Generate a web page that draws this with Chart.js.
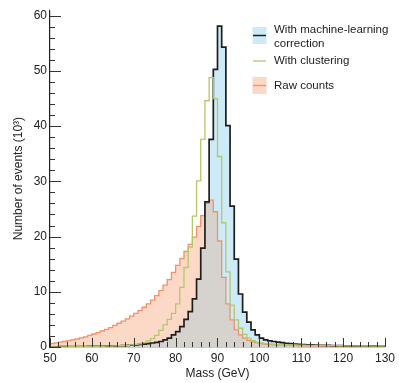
<!DOCTYPE html>
<html>
<head>
<meta charset="utf-8">
<script src="https://cdn.jsdelivr.net/npm/chart.js@4"></script>
<style>
html,body{margin:0;padding:0;background:#fff}
</style>
</head>
<body>
<canvas id="chart" width="399" height="383"></canvas>
<script>
// 1 GeV bins, left edges start at 50 GeV
binStart = 50
binWidth = 1

// events per bin (10^3), bins 50-51 ... 129-130
mlCorrected = [
  0.04, 0.04, 0.05, 0.05, 0.06, 0.06, 0.07, 0.08, 0.09, 0.10,
  0.11, 0.12, 0.14, 0.16, 0.18, 0.20, 0.23, 0.26, 0.30, 0.35,
  0.40, 0.46, 0.53, 0.62, 0.72, 0.85, 1.0, 1.3, 1.6, 2.2,
  2.8, 3.7, 5.0, 6.4, 8.7, 12.3, 17.9, 26.3, 37.6, 50.3,
  58.1, 54.3, 40.1, 25.5, 15.9, 9.6, 6.3, 4.5, 3.1, 2.2,
  1.6, 1.3, 1.1, 1.0, 0.9, 0.78, 0.68, 0.60, 0.54, 0.48,
  0.44, 0.40, 0.37, 0.34, 0.32, 0.30, 0.28, 0.26, 0.25, 0.24,
  0.22, 0.21, 0.20, 0.19, 0.18, 0.17, 0.16, 0.15, 0.14, 0.13
]
clustering = [
  0.03, 0.03, 0.04, 0.04, 0.05, 0.05, 0.06, 0.07, 0.08, 0.09,
  0.10, 0.11, 0.13, 0.15, 0.17, 0.20, 0.23, 0.27, 0.32, 0.38,
  0.46, 0.58, 0.8, 1.1, 1.5, 2.1, 3.0, 4.0, 5.0, 6.1,
  7.8, 10.8, 14.4, 18.1, 23.7, 30.1, 37.6, 44.6, 48.8, 45.0,
  34.5, 22.5, 13.6, 7.6, 4.9, 3.4, 2.3, 1.6, 1.15, 0.88,
  0.72, 0.62, 0.55, 0.50, 0.46, 0.43, 0.40, 0.38, 0.36, 0.34,
  0.32, 0.31, 0.30, 0.29, 0.28, 0.27, 0.26, 0.25, 0.24, 0.23,
  0.22, 0.21, 0.20, 0.19, 0.18, 0.18, 0.17, 0.16, 0.16, 0.15
]
rawCounts = [
  0.6, 0.75, 0.9, 1.0, 1.15, 1.3, 1.45, 1.65, 1.85, 2.1,
  2.35, 2.6, 2.9, 3.2, 3.5, 3.9, 4.3, 4.7, 5.1, 5.6,
  6.1, 6.6, 7.2, 7.8, 8.5, 9.3, 10.2, 11.2, 12.2, 13.5,
  14.8, 16.0, 17.3, 18.6, 19.9, 21.8, 23.8, 26.0, 26.6, 24.5,
  19.2, 12.6, 7.8, 4.9, 3.1, 2.2, 1.6, 1.2, 0.95, 0.75,
  0.6, 0.5, 0.44, 0.40, 0.36, 0.33, 0.30, 0.28, 0.26, 0.24,
  0.22, 0.21, 0.20, 0.19, 0.18, 0.17, 0.16, 0.15, 0.14, 0.14,
  0.13, 0.13, 0.12, 0.12, 0.11, 0.11, 0.10, 0.10, 0.10, 0.09
]

xMin = 50
xMax = 130
yMax = 61

FONT = '"Liberation Sans", Arial, Helvetica, sans-serif'
BLUE_FILL = '#cdeaf6'
ORANGE_FILL = '#fcd8c6'
GRAY_FILL = '#d6d3ce'
BLACK = '#1e1e1e'
GREEN = '#b3c76b'
ORANGE = '#f39068'

// step points: left edge of each bin, plus closing edge
function toPoints(vals){
  pts = vals.map(function(v, i){ return {x: binStart + i*binWidth, y: v} })
  pts.push({x: binStart + vals.length*binWidth, y: vals[vals.length-1]})
  return pts
}
// where the ML and raw fills overlap
overlap = mlCorrected.map(function(v, i){ return Math.min(v, rawCounts[i]) })

tickMarks = {
  id: 'tickMarks',
  afterDraw(chart){
    const ctx = chart.ctx, x = chart.scales.x, y = chart.scales.y
    ctx.save()
    ctx.strokeStyle = '#333'
    ctx.lineWidth = 1
    for (let v = xMin; v <= xMax; v += 2){
      const px = Math.round(x.getPixelForValue(v)) + 0.5
      const len = v % 10 == 0 ? 9 : 5
      ctx.beginPath(); ctx.moveTo(px, y.bottom); ctx.lineTo(px, y.bottom - len); ctx.stroke()
    }
    for (let v = 0; v <= 60; v += 2){
      const py = Math.round(y.getPixelForValue(v)) + 0.5
      const len = v % 10 == 0 ? 11 : 5
      ctx.beginPath(); ctx.moveTo(x.left, py); ctx.lineTo(x.left + len, py); ctx.stroke()
    }
    ctx.restore()
  }
}

legendBox = {
  id: 'legendBox',
  afterDraw(chart){
    const ctx = chart.ctx
    ctx.save()
    // ML swatch
    ctx.fillStyle = BLUE_FILL
    ctx.fillRect(252.5, 27, 14, 17)
    ctx.strokeStyle = BLACK; ctx.lineWidth = 1.5
    ctx.beginPath(); ctx.moveTo(253, 35.5); ctx.lineTo(266, 35.5); ctx.stroke()
    // clustering swatch
    ctx.strokeStyle = GREEN; ctx.lineWidth = 1.3
    ctx.beginPath(); ctx.moveTo(253, 61); ctx.lineTo(266, 61); ctx.stroke()
    // raw swatch
    ctx.fillStyle = ORANGE_FILL
    ctx.fillRect(252.5, 77, 14, 17)
    ctx.strokeStyle = ORANGE; ctx.lineWidth = 1.3
    ctx.beginPath(); ctx.moveTo(253, 85.5); ctx.lineTo(266, 85.5); ctx.stroke()

    ctx.fillStyle = '#222'
    ctx.font = '11.5px ' + FONT
    ctx.textBaseline = 'middle'
    ctx.fillText('With machine-learning', 274, 29.5)
    ctx.fillText('correction', 274, 43.5)
    ctx.fillText('With clustering', 274, 61)
    ctx.fillText('Raw counts', 274, 86)
    ctx.restore()
  }
}

lineDefaults = {stepped: true, pointRadius: 0, pointHoverRadius: 0, tension: 0}

new Chart(document.getElementById('chart'), {
  type: 'line',
  data: {
    datasets: [
      Object.assign({label: 'With clustering', data: toPoints(clustering),
        borderColor: GREEN, borderWidth: 1.3, fill: false}, lineDefaults),
      Object.assign({label: 'overlap', data: toPoints(overlap),
        borderColor: 'rgba(0,0,0,0)', borderWidth: 1, backgroundColor: GRAY_FILL, fill: 'origin'}, lineDefaults),
      Object.assign({label: 'With machine-learning correction', data: toPoints(mlCorrected),
        borderColor: BLACK, borderWidth: 1.7, backgroundColor: BLUE_FILL, fill: 'origin'}, lineDefaults),
      Object.assign({label: 'Raw counts', data: toPoints(rawCounts),
        borderColor: ORANGE, borderWidth: 1.3, backgroundColor: ORANGE_FILL, fill: 'origin'}, lineDefaults)
    ]
  },
  options: {
    responsive: false,
    animation: false,
    devicePixelRatio: 1,
    layout: {padding: {top: 6, right: 11, left: 0, bottom: 0}},
    plugins: {
      legend: {display: false},
      tooltip: {enabled: false},
      filler: {drawTime: 'beforeDatasetsDraw'}
    },
    scales: {
      x: {
        type: 'linear', min: xMin, max: xMax,
        grid: {display: false, drawTicks: false},
        border: {display: true, color: '#222', width: 1.2},
        ticks: {stepSize: 10, padding: 4, color: '#222', maxRotation: 0, autoSkip: false,
          font: {family: FONT, size: 12}},
        title: {display: true, text: 'Mass (GeV)', color: '#222', padding: {top: 0, bottom: 2},
          font: {family: FONT, size: 12}},
        afterFit(s){ s.height = 36 }
      },
      y: {
        min: 0, max: yMax,
        grid: {display: false, drawTicks: false},
        border: {display: true, color: '#222', width: 1.2},
        ticks: {stepSize: 10, includeBounds: false, padding: 3, color: '#222',
          font: {family: FONT, size: 12}},
        title: {display: true, text: 'Number of events (10³)', color: '#222', padding: {top: 11, bottom: 0},
          font: {family: FONT, size: 12}},
        afterFit(s){ s.width = 50 }
      }
    }
  },
  plugins: [tickMarks, legendBox]
})
</script>
</body>
</html>
